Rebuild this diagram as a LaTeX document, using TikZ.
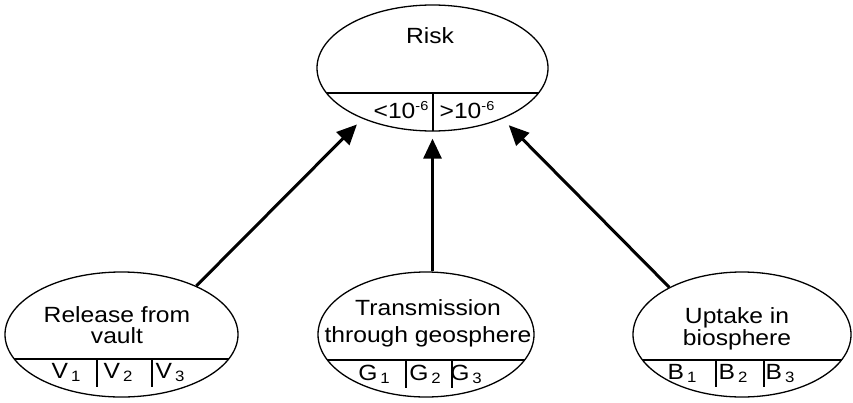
\documentclass[tikz,border=0pt]{standalone}
\usepackage{fontspec}
\setmainfont{Liberation Sans}[FakeStretch=1.12]
\usetikzlibrary{arrows.meta,shapes.geometric}
% lowered index digit and raised exponent
\newcommand\subidx[1]{\hspace{3pt}\raisebox{-3pt}{\fontsize{15}{15}\selectfont #1}}
\newcommand\supexp[1]{\raisebox{8pt}{\fontsize{13}{13}\selectfont #1}}

\begin{document}
\begin{tikzpicture}[x=1pt,y=-1pt,
  oval/.style={draw, ellipse, line width=1.3pt, inner sep=0pt},
  txt/.style={anchor=base, inner sep=0pt, font=\fontsize{22}{26}\selectfont},
  title/.style={txt, align=center},
  rule/.style={line width=1.1pt},
  link/.style={line width=3pt, -{Triangle[length=20pt,width=18pt]}}]
\useasboundingbox (0,0) rectangle (853,402);

% the four ovals
\node[oval, minimum width=231pt, minimum height=126pt] (risk)  at (432.5,68)  {};
\node[oval, minimum width=233pt, minimum height=125pt] (vault) at (121.5,334.5) {};
\node[oval, minimum width=216pt, minimum height=125pt] (geo)   at (426,334.5) {};
\node[oval, minimum width=218pt, minimum height=125pt] (bio)   at (742,334.5) {};

% state rows inside the ovals
\begin{scope}
  \clip (risk.center) ellipse [x radius=115.5, y radius=63];
  \draw[rule] (300,93) -- (560,93);
  \draw[rule] (433,93) -- (433,140);
\end{scope}
\begin{scope}
  \clip (vault.center) ellipse [x radius=116.5, y radius=62.5];
  \draw[rule] (0,359) -- (250,359);
\end{scope}
\begin{scope}
  \clip (geo.center) ellipse [x radius=108, y radius=62.5];
  \draw[rule] (300,360) -- (550,360);
\end{scope}
\begin{scope}
  \clip (bio.center) ellipse [x radius=109, y radius=62.5];
  \draw[rule] (620,360) -- (853,360);
\end{scope}
\draw[rule] (97,359) -- (97,387)  (152,359) -- (152,387);
\draw[rule] (406,360) -- (406,388)  (452,360) -- (452,388);
\draw[rule] (716,360) -- (716,387)  (764,360) -- (764,387);

% titles (base anchor sits on the last line)
\node[txt] (riskT) at (430,43) {Risk};
\node[title, font=\fontsize{22}{20.5}\selectfont] (vaultT) at (117,343) {Release from\\vault};
\node[title, font=\fontsize{22}{27}\selectfont]   (geoT)   at (428,342) {Transmission\\through geosphere};
\node[title, font=\fontsize{22}{22}\selectfont]   (bioT)   at (737,345) {Uptake in\\biosphere};

% state labels
\node[txt] (lo) at (401,118) {<10\supexp{-6}};
\node[txt] (hi) at (467,118) {>10\supexp{-6}};
\node[txt] (v1) at (66,378)  {V\subidx{1}};
\node[txt] (v2) at (118,378) {V\subidx{2}};
\node[txt] (v3) at (170,378) {V\subidx{3}};
\node[txt] (g1) at (374,380) {G\subidx{1}};
\node[txt] (g2) at (425,380) {G\subidx{2}};
\node[txt] (g3) at (466,380) {G\subidx{3}};
\node[txt] (b1) at (682,379) {B\subidx{1}};
\node[txt] (b2) at (733,379) {B\subidx{2}};
\node[txt] (b3) at (780,379) {B\subidx{3}};

% influences on risk
\draw[link, shorten >=8pt] (vault.33) -- (risk.216);
\draw[link, shorten >=7pt] (risk.south |- geo.north) -- (risk.south);
\draw[link, shorten >=9pt] (bio.147) -- (risk.324);
\end{tikzpicture}
\end{document}
